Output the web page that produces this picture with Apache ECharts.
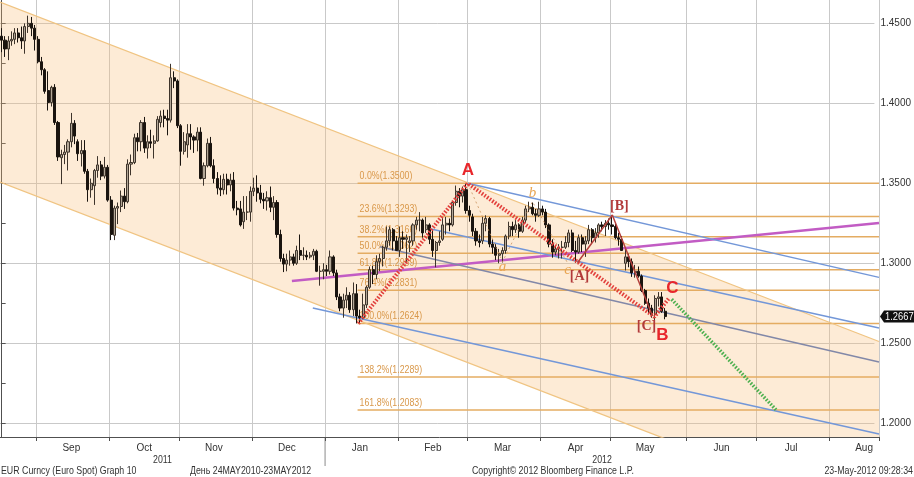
<!DOCTYPE html>
<html>
<head>
<meta charset="utf-8">
<script src="https://cdn.jsdelivr.net/npm/echarts@6.0.0/dist/echarts.min.js"></script>
<style>
html,body{margin:0;padding:0;background:#fff;}
#chart{width:914px;height:477px;}
</style>
</head>
<body>
<div id="chart"></div>
<script>
// ---------- axis / calendar ----------
const firstDay = [2011, 7, 17];          // 17 Aug 2011 (month 0-based)
const totalDays = 265;                   // weekdays shown on the axis
const monthNames = ['Jan','Feb','Mar','Apr','May','Jun','Jul','Aug','Sep','Oct','Nov','Dec'];
const yearLabels = ['2011', '2012'];

// ---------- daily candles [open, close, low, high], 17 Aug 2011 .. 23 May 2012 ----------
const candles = [
[1.4420,1.4395,1.4320,1.4470],[1.4395,1.4340,1.4290,1.4420],[1.4340,1.4390,1.4270,1.4420],[1.4390,1.4400,1.4360,1.4450],
[1.4400,1.4440,1.4370,1.4470],[1.4440,1.4410,1.4380,1.4470],[1.4410,1.4390,1.4340,1.4480],[1.4390,1.4480,1.4310,1.4500],
[1.4480,1.4500,1.4440,1.4548],[1.4500,1.4470,1.4420,1.4540],[1.4470,1.4400,1.4330,1.4490],
[1.4400,1.4260,1.4250,1.4420],[1.4260,1.4210,1.4175,1.4290],[1.4210,1.4075,1.4060,1.4220],[1.4080,1.4005,1.3955,1.4200],
[1.4005,1.4100,1.3980,1.4110],[1.4100,1.3880,1.3865,1.4120],[1.3880,1.3665,1.3640,1.3890],[1.3660,1.3680,1.3495,1.3710],
[1.3680,1.3695,1.3620,1.3740],[1.3695,1.3760,1.3580,1.3775],[1.3760,1.3875,1.3725,1.3940],[1.3875,1.3795,1.3745,1.3895],
[1.3760,1.3685,1.3640,1.3775],[1.3685,1.3705,1.3605,1.3770],[1.3705,1.3575,1.3560,1.3770],[1.3575,1.3460,1.3385,1.3590],
[1.3460,1.3500,1.3410,1.3530],[1.3485,1.3580,1.3365,1.3590],[1.3580,1.3615,1.3535,1.3670],[1.3615,1.3545,1.3520,1.3640],
[1.3545,1.3600,1.3530,1.3665],[1.3600,1.3395,1.3385,1.3615],
[1.3395,1.3180,1.3145,1.3420],[1.3175,1.3345,1.3145,1.3360],[1.3345,1.3355,1.3245,1.3380],[1.3355,1.3420,1.3320,1.3455],
[1.3420,1.3385,1.3340,1.3470],[1.3385,1.3620,1.3375,1.3650],[1.3620,1.3630,1.3550,1.3680],[1.3630,1.3785,1.3620,1.3810],
[1.3785,1.3760,1.3700,1.3815],[1.3760,1.3880,1.3700,1.3895],[1.3880,1.3720,1.3690,1.3915],[1.3720,1.3760,1.3655,1.3800],
[1.3760,1.3750,1.3720,1.3835],[1.3750,1.3765,1.3655,1.3800],[1.3765,1.3900,1.3760,1.3920],[1.3880,1.3920,1.3850,1.3955],
[1.3920,1.3905,1.3850,1.3960],[1.3905,1.3895,1.3800,1.3960],[1.3895,1.4160,1.3880,1.4247],[1.4160,1.4140,1.4095,1.4200],
[1.4140,1.3860,1.3845,1.4150],
[1.3860,1.3700,1.3610,1.3870],[1.3700,1.3760,1.3680,1.3820],[1.3740,1.3810,1.3660,1.3870],[1.3810,1.3790,1.3710,1.3870],
[1.3790,1.3770,1.3690,1.3800],[1.3770,1.3820,1.3700,1.3850],[1.3820,1.3530,1.3525,1.3850],[1.3530,1.3610,1.3485,1.3630],
[1.3610,1.3750,1.3600,1.3780],[1.3750,1.3610,1.3600,1.3790],[1.3610,1.3530,1.3500,1.3650],[1.3530,1.3470,1.3430,1.3570],
[1.3470,1.3460,1.3420,1.3550],[1.3460,1.3525,1.3430,1.3560],[1.3525,1.3490,1.3430,1.3560],[1.3490,1.3520,1.3450,1.3560],
[1.3520,1.3345,1.3330,1.3570],[1.3345,1.3335,1.3300,1.3390],[1.3340,1.3240,1.3230,1.3390],[1.3260,1.3320,1.3215,1.3420],
[1.3320,1.3320,1.3270,1.3420],[1.3320,1.3450,1.3260,1.3480],
[1.3450,1.3470,1.3420,1.3535],[1.3470,1.3440,1.3385,1.3550],[1.3440,1.3400,1.3375,1.3490],[1.3400,1.3390,1.3340,1.3440],
[1.3390,1.3410,1.3330,1.3450],[1.3410,1.3350,1.3320,1.3480],[1.3350,1.3380,1.3270,1.3420],[1.3380,1.3180,1.3160,1.3395],
[1.3180,1.3030,1.3010,1.3210],[1.3030,1.2995,1.2945,1.3060],[1.2995,1.3020,1.2950,1.3060],[1.3020,1.3040,1.2985,1.3080],
[1.3040,1.3000,1.2985,1.3060],[1.3000,1.3080,1.2990,1.3110],[1.3080,1.3050,1.3020,1.3180],[1.3050,1.3050,1.3020,1.3100],
[1.3050,1.3040,1.3020,1.3080],[1.3040,1.3050,1.3030,1.3070],[1.3050,1.3075,1.3020,1.3090],[1.3075,1.2950,1.2945,1.3085],
[1.2950,1.2950,1.2860,1.2985],[1.2950,1.2960,1.2900,1.3000],
[1.2960,1.2950,1.2920,1.2990],[1.2950,1.3040,1.2930,1.3080],[1.3040,1.2940,1.2920,1.3050],[1.2940,1.2790,1.2770,1.2960],
[1.2790,1.2720,1.2700,1.2810],[1.2720,1.2770,1.2660,1.2810],[1.2770,1.2800,1.2720,1.2850],[1.2800,1.2710,1.2690,1.2820],
[1.2710,1.2810,1.2670,1.2880],[1.2810,1.2670,1.2624,1.2870],[1.2670,1.2660,1.2625,1.2710],[1.2660,1.2740,1.2650,1.2810],
[1.2740,1.2850,1.2720,1.2860],[1.2850,1.2960,1.2840,1.2980],[1.2960,1.2930,1.2870,1.2985],[1.2930,1.3010,1.2900,1.3050],
[1.3010,1.3030,1.2950,1.3060],[1.3030,1.3100,1.2980,1.3110],[1.3100,1.3140,1.3080,1.3230],[1.3140,1.3210,1.3110,1.3230],
[1.3210,1.3140,1.3080,1.3220],[1.3140,1.3080,1.3080,1.3170],
[1.3080,1.3160,1.3040,1.3230],[1.3160,1.3150,1.3090,1.3200],[1.3150,1.3160,1.3010,1.3180],[1.3130,1.3140,1.3070,1.3170],
[1.3140,1.3240,1.3110,1.3250],[1.3240,1.3270,1.3210,1.3290],[1.3270,1.3270,1.3200,1.3320],[1.3270,1.3190,1.3160,1.3280],
[1.3210,1.3240,1.3190,1.3290],[1.3240,1.3150,1.3120,1.3250],[1.3150,1.3080,1.3040,1.3210],[1.3080,1.3130,1.2975,1.3140],
[1.3130,1.3140,1.3110,1.3200],[1.3150,1.3240,1.3140,1.3290],[1.3240,1.3250,1.3180,1.3290],[1.3250,1.3240,1.3200,1.3280],
[1.3240,1.3380,1.3230,1.3390],[1.3380,1.3450,1.3360,1.3486],[1.3450,1.3420,1.3350,1.3470],[1.3420,1.3460,1.3380,1.3480],
[1.3460,1.3330,1.3310,1.3495],
[1.3330,1.3300,1.3260,1.3360],[1.3290,1.3200,1.3170,1.3310],[1.3200,1.3140,1.3110,1.3220],[1.3140,1.3130,1.3100,1.3180],
[1.3140,1.3250,1.3120,1.3290],[1.3250,1.3280,1.3200,1.3300],[1.3280,1.3120,1.3100,1.3290],[1.3120,1.3100,1.3060,1.3150],
[1.3100,1.3050,1.3020,1.3120],[1.3050,1.3060,1.3000,1.3090],[1.3060,1.3080,1.3005,1.3100],[1.3080,1.3170,1.3060,1.3180],
[1.3170,1.3230,1.3150,1.3260],[1.3230,1.3210,1.3170,1.3260],[1.3210,1.3240,1.3190,1.3270],[1.3240,1.3200,1.3160,1.3250],
[1.3200,1.3270,1.3190,1.3290],[1.3270,1.3340,1.3250,1.3360],[1.3340,1.3350,1.3320,1.3385],[1.3350,1.3310,1.3300,1.3380],
[1.3310,1.3300,1.3260,1.3340],[1.3300,1.3340,1.3290,1.3385],
[1.3340,1.3320,1.3300,1.3360],[1.3320,1.3240,1.3220,1.3340],[1.3240,1.3120,1.3100,1.3250],[1.3120,1.3070,1.3035,1.3150],
[1.3070,1.3090,1.3050,1.3110],[1.3090,1.3100,1.3030,1.3120],[1.3100,1.3100,1.3030,1.3140],[1.3100,1.3130,1.3090,1.3170],
[1.3130,1.3190,1.3100,1.3210],[1.3190,1.3080,1.3070,1.3210],[1.3080,1.3070,1.3003,1.3140],[1.3070,1.3160,1.3060,1.3180],
[1.3160,1.3120,1.3070,1.3180],[1.3120,1.3140,1.3040,1.3170],[1.3140,1.3210,1.3120,1.3240],[1.3210,1.3160,1.3120,1.3220],
[1.3160,1.3190,1.3130,1.3220],[1.3190,1.3240,1.3160,1.3250],[1.3240,1.3230,1.3200,1.3260],[1.3230,1.3250,1.3170,1.3270],
[1.3250,1.3240,1.3210,1.3280],
[1.3240,1.3230,1.3180,1.3300],[1.3230,1.3160,1.3150,1.3250],[1.3160,1.3150,1.3110,1.3190],[1.3150,1.3080,1.3080,1.3170],
[1.3000,1.3040,1.2955,1.3100],[1.3040,1.3010,1.2975,1.3060],[1.3010,1.2940,1.2915,1.3030],[1.2940,1.2950,1.2910,1.2990],
[1.2950,1.2920,1.2910,1.2980],[1.2920,1.2830,1.2820,1.2930],[1.2830,1.2750,1.2740,1.2840],[1.2750,1.2720,1.2690,1.2780],
[1.2720,1.2680,1.2660,1.2740],[1.2680,1.2780,1.2640,1.2800],[1.2780,1.2790,1.2730,1.2820],[1.2790,1.2700,1.2690,1.2820],
[1.2700,1.2667,1.2650,1.2720]
];
const lastPrice = 1.2667;

// ---------- Fibonacci retracement ----------
const fibLevels = ['0.0%','23.6%','38.2%','50.0%','61.8%','76.4%','100.0%','138.2%','161.8%'];
const fibPrices = [1.3500, 1.3293, 1.3166, 1.3062, 1.2959, 1.2831, 1.2624, 1.2289, 1.2083];
const fibFrom = 107.3, fibTo = 264.5;

// ---------- drawn lines: [trading-day index, price] ----------
const channelUpper = [[-0.5, 1.4633], [264.5, 1.2511]];
const channelLower = [[-0.5, 1.3508], [264.5, 1.1387]];
const blueLine1 = [[140.5, 1.3500], [264.5, 1.2912]];
const blueLine2 = [[128.1, 1.3221], [264.5, 1.2596]];
const greyLine3 = [[114.0, 1.3104], [264.5, 1.2383]];
const blueLine4 = [[93.8, 1.2721], [264.5, 1.1933]];
const magentaLine = [[87.5, 1.2889], [264.5, 1.3252]];
const abcPath = [[107.5, 1.2624], [140.5, 1.3500], [196.8, 1.2665], [201.3, 1.2785]];
const subWavePath = [[173.6, 1.3003], [184.1, 1.3302], [196.2, 1.2670]];
const minorWavePath = [[140.5, 1.3500], [151.0, 1.3010], [160.0, 1.3385], [170.6, 1.3003]];
const targetPath = [[202.0, 1.2775], [233.5, 1.2083]];

// ---------- wave labels ----------
const waveText = ['A', 'B', 'C', '[A]', '[B]', '[C]', 'a', 'b', 'c'];
const waveX = [140.56, 199.2, 202.2, 174.2, 186.25, 194.4, 151.0, 160.0, 170.6];
const waveY = [1.3579, 1.2552, 1.2846, 1.2916, 1.3358, 1.2608, 1.2979, 1.3439, 1.2958];
const waveKind = [0, 0, 0, 1, 1, 1, 2, 2, 2];

// ---------- build calendar ----------
const dates = [];
(function () {
  const d = new Date(Date.UTC(firstDay[0], firstDay[1], firstDay[2]));
  while (dates.length < totalDays) {
    const wd = d.getUTCDay();
    if (wd !== 0 && wd !== 6) dates.push(d.toISOString().slice(0, 10));
    d.setUTCDate(d.getUTCDate() + 1);
  }
})();
const monthStart = new Set();
const labelAt = new Set();
for (let i = 1; i < dates.length; i++) {
  if (dates[i].slice(0, 7) !== dates[i - 1].slice(0, 7)) {
    monthStart.add(i);
    if (i + 10 < dates.length) labelAt.add(i + 10);
  }
}
let yearBoundary = 0;
for (let i = 1; i < dates.length; i++) if (dates[i].slice(0, 4) !== dates[i - 1].slice(0, 4)) yearBoundary = i - 0.5;

const SANS = '"Liberation Sans", Arial, sans-serif';
const NARROW_X = 0.8;   // horizontal squeeze for the narrow Bloomberg lettering
const GRIDLINE = { type: 'solid', color: '#c9c9c9', width: 1 };

function lineSeries(data, color, width, type, z, opacity) {
  return {
    type: 'line', xAxisIndex: 1, yAxisIndex: 0, data: data, symbol: 'none', silent: true,
    z: z, animation: false, clip: true,
    lineStyle: { color: color, width: width, type: type || 'solid', opacity: opacity == null ? 1 : opacity }
  };
}

const chart = echarts.init(document.getElementById('chart'), null, { renderer: 'canvas' });

const option = {
  animation: false,
  backgroundColor: '#ffffff',
  grid: [
    { left: 0, right: 35, top: 0, bottom: 40 },
    { left: 0, right: 35, top: 0, bottom: 53.7 }
  ],
  xAxis: [
    {
      type: 'category', gridIndex: 0, data: dates, boundaryGap: true,
      axisLine: { show: true, lineStyle: { color: '#505050', width: 1 } },
      axisTick: { show: true, length: 4, interval: (i) => monthStart.has(i), lineStyle: { color: '#505050' } },
      axisLabel: {
        interval: (i) => labelAt.has(i),
        formatter: (v) => monthNames[parseInt(v.slice(5, 7), 10) - 1],
        color: '#333', fontSize: 10, fontFamily: SANS, margin: 6
      },
      splitLine: { show: true, interval: (i) => monthStart.has(i), lineStyle: GRIDLINE }
    },
    { type: 'value', gridIndex: 0, min: -0.5, max: 264.5, show: false },
    { type: 'value', gridIndex: 1, min: -0.5, max: 264.5, show: false }
  ],
  yAxis: [
    {
      type: 'value', gridIndex: 0, position: 'right', min: 1.1914, max: 1.4646, scale: true,
      axisLine: { show: true, lineStyle: { color: '#505050', width: 1 } },
      axisTick: { show: false }, axisLabel: { show: false }, splitLine: { show: false }
    },
    {
      type: 'value', gridIndex: 1, position: 'right', min: 1.2, max: 1.4646, interval: 0.025,
      axisLine: { show: false },
      axisTick: { show: true, length: 4, lineStyle: { color: '#505050' } },
      axisLabel: {
        margin: 6, color: '#333', fontSize: 10, fontFamily: SANS, showMaxLabel: false,
        formatter: (v) => (Math.abs(v * 20 - Math.round(v * 20)) < 1e-6 && v < 1.46) ? v.toFixed(4) : ''
      },
      splitLine: { show: false }
    },
    {
      type: 'value', gridIndex: 1, position: 'left', min: 1.2, max: 1.4646, interval: 0.05,
      axisLine: { show: false }, axisTick: { show: false }, axisLabel: { show: false },
      splitLine: { show: true, showMaxLine: false, lineStyle: GRIDLINE }
    }
  ],
  series: [
    // channel fill
    {
      type: 'custom', xAxisIndex: 1, yAxisIndex: 0, z: 1, silent: true, data: [[100, 1.3]],
      renderItem: function (params, api) {
        const pts = [api.coord(channelUpper[0]), api.coord(channelUpper[1]), api.coord(channelLower[1]), api.coord(channelLower[0])];
        const cs = params.coordSys;
        return {
          type: 'group',
          clipPath: { type: 'rect', shape: { x: cs.x, y: cs.y, width: cs.width, height: cs.height } },
          children: [{ type: 'polygon', shape: { points: pts }, style: { fill: 'rgba(249,190,120,0.30)' } }]
        };
      }
    },
    lineSeries(channelUpper, '#F0C482', 1.3, 'solid', 2),
    lineSeries(channelLower, '#F0C482', 1.3, 'solid', 2),
    // fibonacci levels
    {
      type: 'custom', xAxisIndex: 1, yAxisIndex: 0, z: 2, silent: true,
      data: fibPrices.map((p, i) => [fibFrom, p, i]),
      renderItem: function (params, api) {
        const i = api.value(2);
        const p = fibPrices[i];
        const a = api.coord([fibFrom, p]);
        const b = api.coord([fibTo, p]);
        return {
          type: 'group', children: [
            { type: 'line', shape: { x1: a[0], y1: a[1], x2: b[0], y2: b[1] }, style: { stroke: '#E4AC62', lineWidth: 1.5 } },
            { type: 'text', x: a[0] + 2, y: a[1] - 1.5, scaleX: NARROW_X,
              style: { text: fibLevels[i] + '(' + p.toFixed(4) + ')', fill: '#D9984A', font: '11px ' + SANS, align: 'left', verticalAlign: 'bottom' } }
          ]
        };
      }
    },
    lineSeries(magentaLine, '#C25CC4', 2.6, 'solid', 3),
    lineSeries(blueLine1, '#7397D8', 1.5, 'solid', 3),
    lineSeries(blueLine2, '#7397D8', 1.5, 'solid', 3),
    lineSeries(greyLine3, '#8288A8', 1.5, 'solid', 3),
    lineSeries(blueLine4, '#7397D8', 1.5, 'solid', 3),
    // candles
    {
      type: 'candlestick', xAxisIndex: 0, yAxisIndex: 0, z: 4, silent: true,
      data: candles, barWidth: 2.6,
      itemStyle: { color: '#b3a797', color0: '#1a140f', borderColor: '#3e342b', borderColor0: '#1a140f', borderWidth: 1 }
    },
    lineSeries(minorWavePath, '#C9925E', 1, [2, 3], 5, 0.8),
    lineSeries(abcPath, '#E2403C', 4, [1.6, 1.6], 5),
    lineSeries(subWavePath, '#B4413C', 1.5, 'solid', 5),
    lineSeries(targetPath, '#4DB04F', 3.5, [1.6, 1.6], 5),
    // wave labels
    {
      type: 'custom', xAxisIndex: 1, yAxisIndex: 0, z: 6, silent: true,
      data: waveX.map((x, i) => [x, waveY[i], i]),
      renderItem: function (params, api) {
        const i = api.value(2);
        const c = api.coord([waveX[i], waveY[i]]);
        const k = waveKind[i];
        const font = k === 0 ? 'bold 17px "Liberation Sans", Arial, sans-serif'
          : k === 1 ? 'bold 14px "Liberation Serif", "DejaVu Serif", serif'
          : 'italic 15px "Liberation Serif", "DejaVu Serif", serif';
        const fill = k === 0 ? '#E8262B' : k === 1 ? '#B23A3A' : '#E9A552';
        return { type: 'text', x: c[0], y: c[1], style: { text: waveText[i], font: font, fill: fill, align: 'center', verticalAlign: 'middle' } };
      }
    },
    // last price tag
    {
      type: 'custom', xAxisIndex: 1, yAxisIndex: 0, z: 7, silent: true, data: [[264.5, lastPrice]],
      renderItem: function (params, api) {
        const c = api.coord([264.5, lastPrice]);
        const x = c[0], y = c[1];
        return {
          type: 'group', children: [
            { type: 'polygon', shape: { points: [[x + 1, y], [x + 5, y - 6], [x + 35, y - 6], [x + 35, y + 6], [x + 5, y + 6]] }, style: { fill: '#111' } },
            { type: 'text', x: x + 6, y: y + 0.5, scaleX: 0.85, style: { text: lastPrice.toFixed(4), fill: '#fff', font: '11px ' + SANS, align: 'left', verticalAlign: 'middle' } }
          ]
        };
      }
    }
  ]
};
chart.setOption(option);

// year labels, separator and footer
const px = (v) => chart.convertToPixel({ xAxisIndex: 1 }, v);
const sepX = px(yearBoundary);
const y2011 = px((-0.5 + yearBoundary) / 2);
const y2012 = px((yearBoundary + 264.5) / 2);
const footStyle = (t, al) => ({ text: t, font: '11px ' + SANS, fill: '#333', align: al, verticalAlign: 'middle' });
chart.setOption({
  graphic: [
    { type: 'line', shape: { x1: sepX, y1: 437, x2: sepX, y2: 466 }, style: { stroke: '#8a8a8a', lineWidth: 1 } },
    { type: 'text', x: y2011, y: 460, scaleX: NARROW_X, style: footStyle(yearLabels[0], 'center') },
    { type: 'text', x: y2012, y: 460, scaleX: NARROW_X, style: footStyle(yearLabels[1], 'center') },
    { type: 'text', x: 1, y: 471, scaleX: NARROW_X, style: footStyle('EUR Curncy (Euro Spot) Graph 10', 'left') },
    { type: 'text', x: 190, y: 471, scaleX: NARROW_X, style: footStyle('День 24MAY2010-23MAY2012', 'left') },
    { type: 'text', x: 472, y: 471, scaleX: NARROW_X, style: footStyle('Copyright© 2012 Bloomberg Finance L.P.', 'left') },
    { type: 'text', x: 913, y: 471, scaleX: NARROW_X, style: footStyle('23-May-2012 09:28:34', 'right') }
  ]
});
</script>
</body>
</html>
